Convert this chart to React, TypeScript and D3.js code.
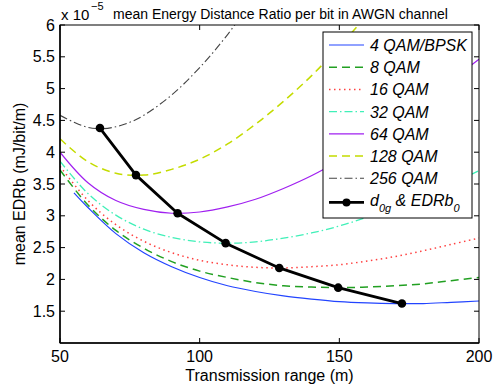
import * as d3 from 'd3'

// transmission range samples (m)
const rangeX = [50, 60, 70, 80, 90, 100, 110, 120, 130, 140, 150, 160, 170, 180, 190, 200]
const rangeX4 = [55, 60, 70, 80, 90, 100, 110, 120, 130, 140, 150, 160, 170, 180, 190, 200]
const rangeX128 = [50, 60, 70, 80, 90, 100, 110, 120, 130, 140, 150, 160]
const rangeX256 = [50, 55, 60, 65, 70, 75, 80, 90, 100, 110, 120]

// mean EDRb (x 1e-5 mJ/bit/m)
const qam4 = [3.36, 3.13, 2.72, 2.42, 2.2, 2.03, 1.9, 1.81, 1.74, 1.69, 1.65, 1.63, 1.62, 1.62, 1.64, 1.66]
const qam8 = [3.72, 3.17, 2.77, 2.49, 2.28, 2.13, 2.03, 1.95, 1.9, 1.88, 1.87, 1.88, 1.9, 1.93, 1.98, 2.03]
const qam16 = [3.78, 3.24, 2.86, 2.6, 2.42, 2.3, 2.23, 2.19, 2.18, 2.2, 2.23, 2.29, 2.36, 2.45, 2.55, 2.65]
const qam32 = [3.86, 3.35, 3.01, 2.79, 2.66, 2.59, 2.57, 2.59, 2.65, 2.73, 2.84, 2.98, 3.13, 3.31, 3.5, 3.71]
const qam64 = [4.0, 3.52, 3.24, 3.1, 3.04, 3.06, 3.14, 3.26, 3.43, 3.63, 3.87, 4.14, 4.44, 4.76, 5.12, 5.46]
const qam128 = [4.21, 3.85, 3.67, 3.64, 3.73, 3.89, 4.13, 4.44, 4.8, 5.2, 5.66, 6.16]
const qam256 = [4.58, 4.47, 4.39, 4.37, 4.4, 4.47, 4.58, 4.9, 5.33, 5.85, 6.47]

// optimum points
const d0g = [64.3, 77.2, 92.1, 109.3, 128.5, 149.6, 172.4]
const edrb0 = [4.38, 3.64, 3.04, 2.57, 2.18, 1.87, 1.62]

const xTicks = [50, 100, 150, 200]
const yTicks = [1.5, 2, 2.5, 3, 3.5, 4, 4.5, 5, 5.5, 6]

const series = [
  { name: '4 QAM/BPSK', xs: rangeX4, ys: qam4, color: '#2244ff', dash: '', w: 1.2 },
  { name: '8 QAM', xs: rangeX, ys: qam8, color: '#22a022', dash: '8,5', w: 1.5 },
  { name: '16 QAM', xs: rangeX, ys: qam16, color: '#ff4040', dash: '1.5,3.5', w: 1.5 },
  { name: '32 QAM', xs: rangeX, ys: qam32, color: '#40f0b8', dash: '8,3,1.5,3', w: 1.3 },
  { name: '64 QAM', xs: rangeX, ys: qam64, color: '#a020f0', dash: '', w: 1.2 },
  { name: '128 QAM', xs: rangeX128, ys: qam128, color: '#c4dc00', dash: '8,5', w: 1.5 },
  { name: '256 QAM', xs: rangeX256, ys: qam256, color: '#444444', dash: '8,3,1.5,3', w: 1.1 },
]

const W = 498, H = 387
const L = 60, R = 479, T = 25, B = 343
const font = 'Liberation Sans, Arial, Helvetica, sans-serif'

export default function App() {
  const x = d3.scaleLinear().domain([50, 200]).range([L, R])
  const y = d3.scaleLinear().domain([1, 6]).range([B, T])

  const line = (xs: number[], ys: number[]) =>
    d3.line<number>()
      .x((_, i) => x(xs[i]))
      .y(d => y(d))
      .curve(d3.curveCatmullRom)(ys) || ''

  const optLine = d3.line<number>().x((_, i) => x(d0g[i])).y(d => y(d))(edrb0) || ''

  const legX = 323, legY = 32, legW = 149, legH = 186
  const rowY = (i: number) => 45 + i * 22.2 + (i === 7 ? 2 : 0)

  return (
    <svg width={W} height={H} style={{ position: 'absolute', left: 0, top: 0, background: '#fff' }} fontFamily={font}>
      <defs>
        <clipPath id="plotclip">
          <rect x={L} y={T} width={R - L} height={B - T} />
        </clipPath>
      </defs>
      <rect x={0} y={0} width={W} height={H} fill="#fff" />

      <g clipPath="url(#plotclip)">
        {series.map(s => (
          <path key={s.name} d={line(s.xs, s.ys)} fill="none" stroke={s.color}
            strokeWidth={s.w} strokeDasharray={s.dash || undefined} />
        ))}
        <path d={optLine} fill="none" stroke="#000" strokeWidth={2.8} strokeLinejoin="round" />
        {d0g.map((d, i) => (
          <circle key={i} cx={x(d)} cy={y(edrb0[i])} r={4.3} fill="#000" />
        ))}
      </g>

      {/* axes box + ticks */}
      <rect x={L} y={T} width={R - L} height={B - T} fill="none" stroke="#000" strokeWidth={1} />
      <line x1={L} y1={T} x2={L} y2={B} stroke="#000" strokeWidth={1.5} />
      <line x1={L} y1={B} x2={R} y2={B} stroke="#000" strokeWidth={1.5} />
      {xTicks.map(t => (
        <g key={'x' + t}>
          <line x1={x(t)} x2={x(t)} y1={B} y2={B - 5} stroke="#000" />
          <line x1={x(t)} x2={x(t)} y1={T} y2={T + 5} stroke="#000" />
          <text x={x(t)} y={362} fontSize={16} textAnchor="middle">{t}</text>
        </g>
      ))}
      {yTicks.map(t => (
        <g key={'y' + t}>
          <line x1={L} x2={L + 5} y1={y(t)} y2={y(t)} stroke="#000" />
          <line x1={R} x2={R - 5} y1={y(t)} y2={y(t)} stroke="#000" />
          <text x={55} y={y(t) + 5.5} fontSize={16} textAnchor="end">{t}</text>
        </g>
      ))}

      {/* labels */}
      <text x={61} y={20} fontSize={15}>x 10</text>
      <text x={91} y={10} fontSize={11}>−5</text>
      <text x={113} y={19} fontSize={14}>mean Energy Distance Ratio per bit in AWGN channel</text>
      <text x={(L + R) / 2} y={381} fontSize={16} textAnchor="middle">Transmission range (m)</text>
      <text transform={`translate(25,${(T + B) / 2}) rotate(-90)`} fontSize={16} textAnchor="middle">mean EDRb (mJ/bit/m)</text>

      {/* legend */}
      <rect x={legX} y={legY} width={legW} height={legH} fill="#fff" stroke="#000" strokeWidth={1} />
      {series.map((s, i) => (
        <g key={'leg' + s.name}>
          <line x1={329} x2={364} y1={rowY(i)} y2={rowY(i)} stroke={s.color}
            strokeWidth={s.w} strokeDasharray={s.dash || undefined} />
          <text x={370} y={rowY(i) + 6} fontSize={16} fontStyle="italic">{s.name}</text>
        </g>
      ))}
      <g>
        <line x1={329} x2={364} y1={rowY(7)} y2={rowY(7)} stroke="#000" strokeWidth={2.8} />
        <circle cx={346.5} cy={rowY(7)} r={4} fill="#000" />
        <text x={370} y={rowY(7) + 4} fontSize={16} fontStyle="italic">
          d<tspan fontSize={11} dy={6}>0g</tspan>
          <tspan dy={-6}> &amp; EDRb</tspan>
          <tspan fontSize={11} dy={6}>0</tspan>
        </text>
      </g>
    </svg>
  )
}
